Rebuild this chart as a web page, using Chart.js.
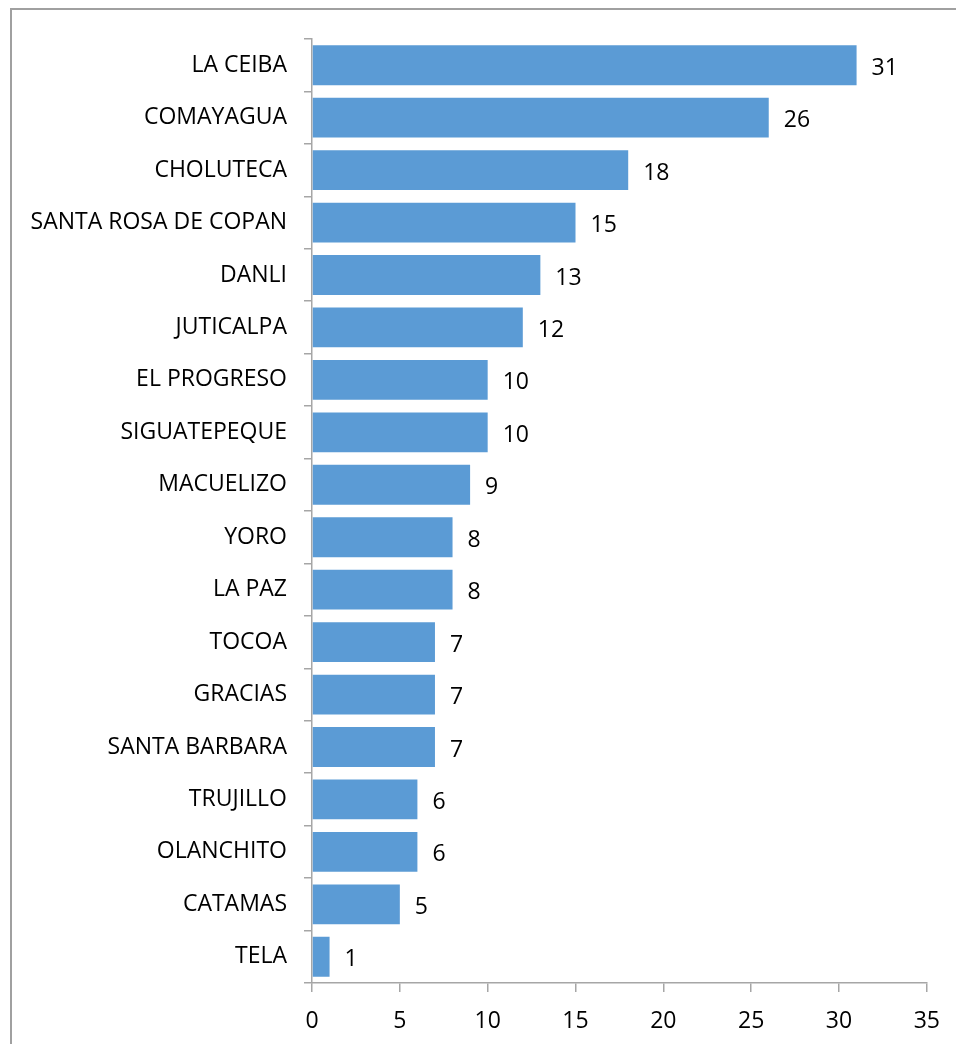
<!DOCTYPE html>
<html>
<head>
<meta charset="utf-8">
<script src="https://cdn.jsdelivr.net/npm/chart.js@4/dist/chart.umd.min.js"></script>
<style>
  html, body { margin: 0; padding: 0; background: #fff; }
  #wrap { position: relative; width: 956px; height: 1044px; }
</style>
</head>
<body>
<div id="wrap"><canvas id="bars" width="956" height="1044"></canvas></div>
<script>
// cities and counts, largest first
const cities = [
  "LA CEIBA", "COMAYAGUA", "CHOLUTECA", "SANTA ROSA DE COPAN", "DANLI",
  "JUTICALPA", "EL PROGRESO", "SIGUATEPEQUE", "MACUELIZO", "YORO",
  "LA PAZ", "TOCOA", "GRACIAS", "SANTA BARBARA", "TRUJILLO",
  "OLANCHITO", "CATAMAS", "TELA"
];
const counts = [31, 26, 18, 15, 13, 12, 10, 10, 9, 8, 8, 7, 7, 7, 6, 6, 5, 1];
const xTicks = [0, 5, 10, 15, 20, 25, 30, 35];

const FONT = "'Open Sans', 'Liberation Sans', sans-serif";
const AXIS_GREY = "#a6a6a6";

// grey frame on the left and top edges
const frame = {
  id: "frame",
  beforeDraw(chart) {
    const c = chart.ctx;
    c.save();
    c.strokeStyle = "#a0a0a0";
    c.lineWidth = 2;
    c.beginPath();
    c.moveTo(11, chart.height);
    c.lineTo(11, 9);
    c.lineTo(chart.width, 9);
    c.stroke();
    c.restore();
  }
};

// count written just past the end of each bar
const barValues = {
  id: "barValues",
  afterDatasetsDraw(chart) {
    const c = chart.ctx;
    const meta = chart.getDatasetMeta(0);
    c.save();
    c.font = "23px " + FONT;
    c.fillStyle = "#000";
    c.textAlign = "left";
    c.textBaseline = "middle";
    meta.data.forEach((bar, i) => {
      c.fillText(String(counts[i]), bar.x + 15, bar.y + 3);
    });
    c.restore();
  }
};

new Chart(document.getElementById("bars"), {
  type: "bar",
  data: {
    labels: cities,
    datasets: [{
      data: counts,
      backgroundColor: "#5b9bd5",
      borderWidth: 0,
      barPercentage: 0.76,
      categoryPercentage: 1
    }]
  },
  options: {
    indexAxis: "y",
    responsive: false,
    animation: false,
    layout: { padding: { left: 0, top: 39, right: 28, bottom: 0 } },
    plugins: {
      legend: { display: false },
      tooltip: { enabled: false }
    },
    scales: {
      y: {
        offset: true,
        afterFit(scale) { scale.width = 312; },
        grid: {
          offset: true,
          drawOnChartArea: false,
          tickLength: 8,
          color: AXIS_GREY,
          lineWidth: 1.5
        },
        border: { color: AXIS_GREY, width: 1.5 },
        ticks: {
          padding: 17,
          color: "#000",
          font: { family: FONT, size: 23 }
        }
      },
      x: {
        min: 0,
        max: 35,
        afterFit(scale) { scale.height = 61; },
        afterBuildTicks(scale) { scale.ticks = xTicks.map(v => ({ value: v })); },
        grid: {
          drawOnChartArea: false,
          tickLength: 9,
          color: AXIS_GREY,
          lineWidth: 1.5
        },
        border: { color: AXIS_GREY, width: 1.5 },
        ticks: {
          padding: 16,
          color: "#000",
          font: { family: FONT, size: 23 }
        }
      }
    }
  },
  plugins: [frame, barValues]
});
</script>
</body>
</html>
